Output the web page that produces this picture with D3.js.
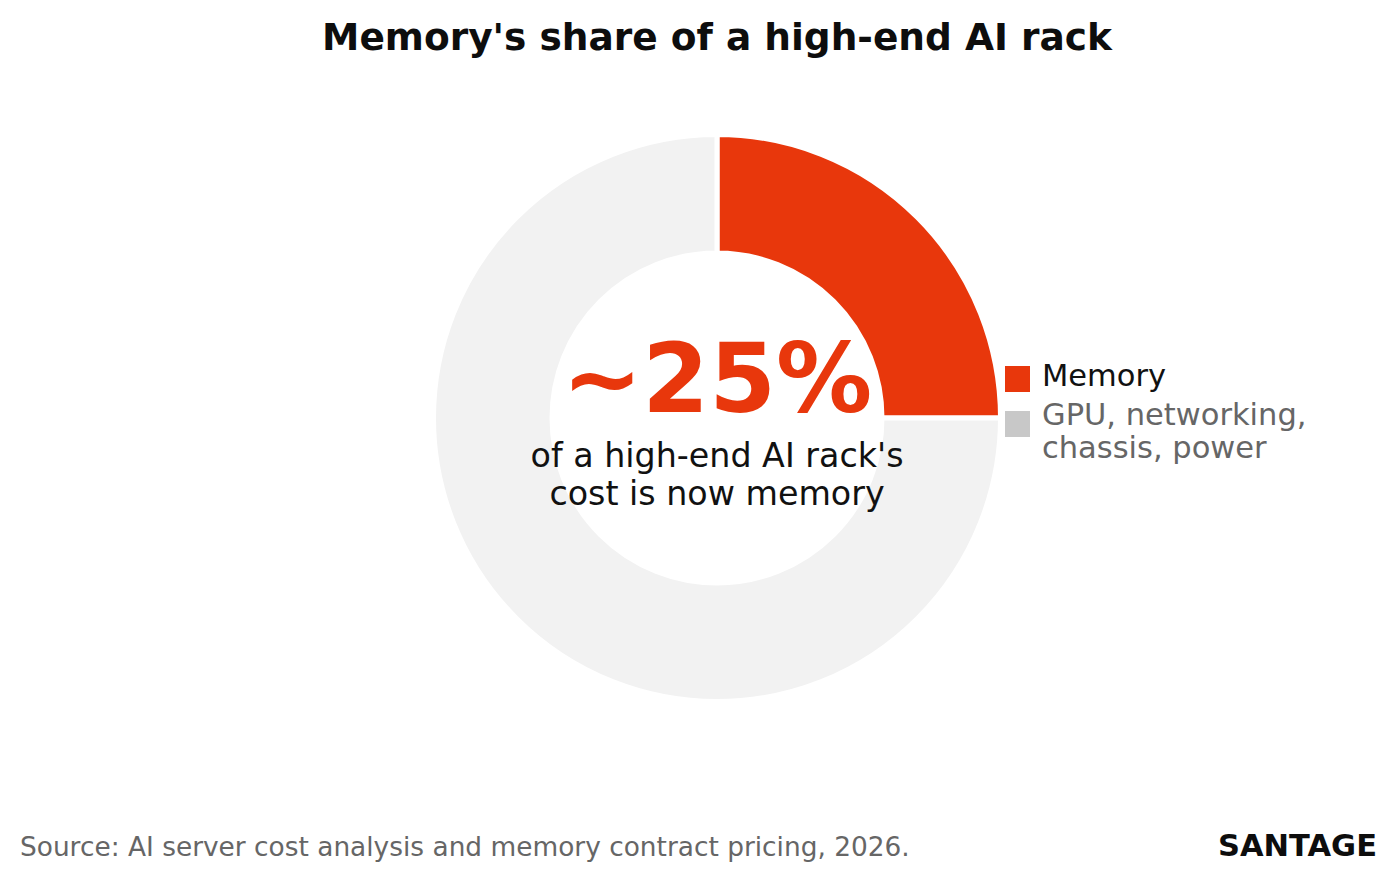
<!DOCTYPE html>
<html><head><meta charset="utf-8">
<script src="https://cdn.jsdelivr.net/npm/d3@7"></script>
<style>html,body{margin:0;padding:0;background:#fff}svg{display:block}</style>
</head><body>
<svg id="chart" width="1398" height="881"></svg>
<script>
const categories = ["Memory", "GPU, networking, chassis, power"];
const legendLines = [["Memory"], ["GPU, networking,", "chassis, power"]];
const values = [25, 75];
const colors = ["#E8370C", "#F2F2F2"];
const legendColors = ["#E8370C", "#C8C8C8"];
const legendTextColors = ["#111111", "#666666"];
const title = "Memory's share of a high-end AI rack";
const bigLabel = "~25%";
const subLines = ["of a high-end AI rack's", "cost is now memory"];
const source = "Source: AI server cost analysis and memory contract pricing, 2026.";
const brand = "SANTAGE";

const svg = d3.select("#chart");
const font = "'DejaVu Sans', sans-serif";
const cx = 717, cy = 418;

svg.append("text").attr("x", 717).attr("y", 50).attr("text-anchor", "middle")
  .attr("font-family", font).attr("font-weight", "bold").attr("font-size", 37.5)
  .attr("fill", "#0d0d0d").text(title);

const pie = d3.pie().sort(null).value(d => d)(values);
const arc = d3.arc().innerRadius(165).outerRadius(283.5);
const g = svg.append("g").attr("transform", `translate(${cx},${cy})`);
g.selectAll("path").data(pie).join("path")
  .attr("d", arc).attr("fill", (d, i) => colors[i])
  .attr("stroke", "#fff").attr("stroke-width", 5).attr("stroke-linejoin", "miter");

g.append("text").attr("x", 0).attr("y", 412 - cy).attr("text-anchor", "middle")
  .attr("font-family", font).attr("font-weight", "bold").attr("font-size", 96)
  .attr("fill", "#E8370C").text(bigLabel);

g.selectAll("text.sub").data(subLines).join("text").attr("class", "sub")
  .attr("x", 0).attr("y", (d, i) => 467 - cy + i * 38).attr("text-anchor", "middle")
  .attr("font-family", font).attr("font-size", 33.3).attr("fill", "#111").text(d => d);

const lg = svg.append("g");
const rectY = [366, 411];
const textY = [386, 425];
categories.forEach((c, i) => {
  lg.append("rect").attr("x", 1005).attr("y", rectY[i]).attr("width", 25).attr("height", 26)
    .attr("fill", legendColors[i]);
  const t = lg.append("text").attr("font-family", font).attr("font-size", 30.5)
    .attr("fill", legendTextColors[i]);
  legendLines[i].forEach((line, j) => {
    t.append("tspan").attr("x", 1042).attr("y", textY[i] + j * 33).text(line);
  });
});

svg.append("text").attr("x", 20).attr("y", 856).attr("font-family", font)
  .attr("font-size", 26.4).attr("fill", "#666").text(source);
svg.append("text").attr("x", 1377).attr("y", 856).attr("text-anchor", "end")
  .attr("font-family", font).attr("font-weight", "bold").attr("font-size", 30.5)
  .attr("fill", "#0d0d0d").text(brand);
</script>
</body></html>
